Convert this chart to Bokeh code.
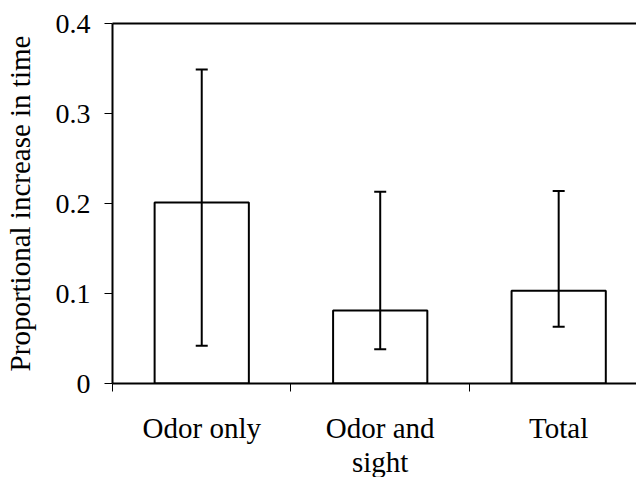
from bokeh.plotting import figure
from bokeh.models import (ColumnDataSource, FixedTicker, Whisker, TeeHead,
                          LinearAxis, Range1d)
from bokeh.embed import file_html
from bokeh.resources import INLINE

# Data
categories = ["Odor only", "Odor and\nsight", "Total"]
means = [0.201, 0.081, 0.103]
upper_err = [0.349, 0.213, 0.214]
lower_err = [0.042, 0.038, 0.063]
y_ticks = [0, 0.1, 0.2, 0.3, 0.4]
y_tick_labels = ["0", "0.1", "0.2", "0.3", "0.4"]

x_pos = [i + 0.5 for i in range(len(categories))]
boundaries = [i for i in range(len(categories) + 1)]

src = ColumnDataSource(dict(x=x_pos, top=means, upper=upper_err, lower=lower_err))

FONT = "Liberation Serif"

p = figure(frame_width=524, frame_height=360, output_backend="svg",
           toolbar_location=None,
           x_range=Range1d(0, 2.936), y_range=Range1d(0, 0.4),
           min_border_left=109, min_border_right=0, min_border_top=23,
           min_border_bottom=10)
p.grid.visible = False
p.outline_line_color = None
p.background_fill_color = "white"
p.border_fill_color = "white"

p.vbar(x="x", top="top", bottom=0, width=0.528, source=src,
       fill_color="white", line_color="black", line_width=2)

w = Whisker(base="x", upper="upper", lower="lower", source=src,
            dimension="height", line_color="black", line_width=2,
            level="overlay",
            upper_head=TeeHead(size=12, line_width=2, line_color="black"),
            lower_head=TeeHead(size=12, line_width=2, line_color="black"))
p.add_layout(w)

# x axis
xa = p.xaxis[0]
xa.ticker = FixedTicker(ticks=x_pos, minor_ticks=boundaries)
xa.major_label_overrides = {x: c for x, c in zip(x_pos, categories)}
xa.major_tick_line_color = None
xa.major_tick_out = 0
xa.major_tick_in = 0
xa.minor_tick_out = 8
xa.minor_tick_in = 0
xa.minor_tick_line_color = "black"
xa.minor_tick_line_width = 1
xa.axis_line_width = 2
xa.axis_line_color = "black"
xa.major_label_standoff = 20
xa.major_label_text_font = FONT
xa.major_label_text_font_size = "29px"
xa.major_label_text_line_height = 1.08
xa.major_label_text_color = "black"

# y axis
ya = p.yaxis[0]
ya.ticker = FixedTicker(ticks=y_ticks)
ya.major_label_overrides = {t: l for t, l in zip(y_ticks, y_tick_labels)}
ya.minor_tick_line_color = None
ya.major_tick_out = 8
ya.major_tick_in = 0
ya.major_tick_line_width = 1
ya.axis_line_width = 2
ya.axis_line_color = "black"
ya.major_label_standoff = 14
ya.major_label_text_font = FONT
ya.major_label_text_font_size = "28px"
ya.major_label_text_color = "black"
ya.axis_label = "Proportional increase in time"
ya.axis_label_text_font = FONT
ya.axis_label_text_font_size = "29px"
ya.axis_label_text_font_style = "normal"
ya.axis_label_text_color = "black"
ya.axis_label_standoff = 17

# top border line
top = LinearAxis(ticker=FixedTicker(ticks=[]), axis_line_width=2,
                 axis_line_color="black", major_tick_line_color=None,
                 minor_tick_line_color=None, major_label_text_font_size="0px")
p.add_layout(top, "above")

open("out.html", "w").write(file_html(p, INLINE))
